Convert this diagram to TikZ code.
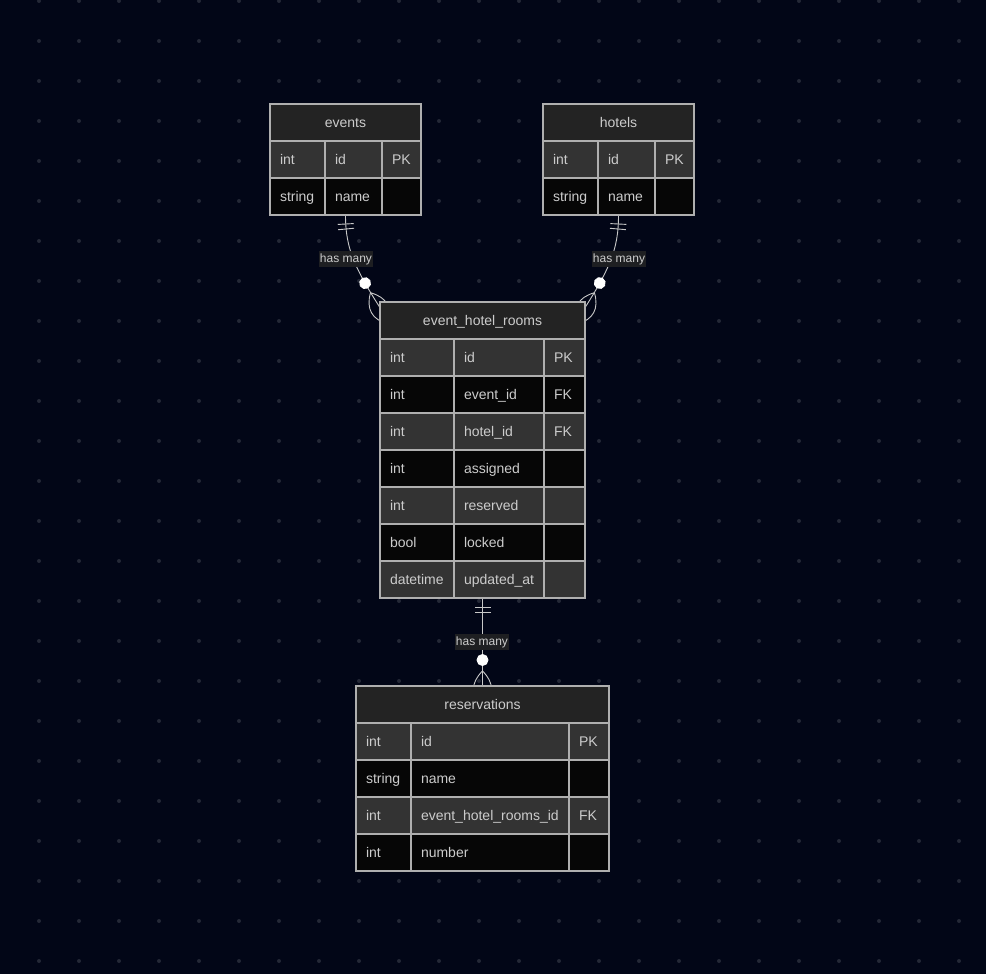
\documentclass[tikz,border=0pt]{standalone}
\usepackage{fontspec}
\setmainfont{Liberation Sans}
\usetikzlibrary{decorations.markings}
\definecolor{bg}{RGB}{2,6,23}
\definecolor{dotc}{RGB}{36,40,54}
\definecolor{hdr}{RGB}{35,35,35}
\definecolor{oddc}{RGB}{51,51,51}
\definecolor{evenc}{RGB}{6,6,6}
\definecolor{bord}{RGB}{175,175,175}
\definecolor{txt}{RGB}{204,204,204}
\definecolor{lnk}{RGB}{200,200,200}
\definecolor{lblbg}{RGB}{30,31,34}
\tikzset{
  ercell/.style={anchor=north west, draw=bord, line width=1.3pt, minimum height=37pt,
    inner xsep=10pt, inner ysep=0pt, outer sep=0pt, text=txt, align=left, font=\fontsize{14}{16}\selectfont},
  erhead/.style={anchor=north west, draw=bord, line width=1.3pt, fill=hdr, minimum height=37pt,
    inner sep=0pt, outer sep=0pt, text=txt, font=\fontsize{14}{16}\selectfont},
  erbox/.style={anchor=north west, draw=bord, line width=1.5pt, inner sep=0pt, outer sep=0pt},
  lbl/.style={fill=lblbg, text=txt, font=\fontsize{12}{14}\selectfont, inner xsep=1pt, inner ysep=2.5pt},
  rel/.style={draw=lnk, line width=0.9pt}
}
\newcommand\erstrut{\rule[-3pt]{0pt}{16pt}}
\newcommand\ercell[6]{\node[ercell,fill=#5,text width=#4pt] (#1) at (#2,#3) {\mbox{\erstrut #6}};}
\newcommand\errow[6]{%
  \ercell{#1t}{\cA}{#2}{\wA}{#3}{#4}%
  \ercell{#1n}{\cB}{#2}{\wB}{#3}{#5}%
  \ercell{#1k}{\cC}{#2}{\wC}{#3}{#6}}
\newcommand\zomany{%
  \filldraw[draw=white, fill=white] (0,0) circle (5.5);
  \draw[lnk, line width=0.9pt] (11,0) .. controls (23,12) and (35,12) .. (47,0)
     .. controls (35,-12) and (23,-12) .. (11,0);}
\newcommand\onebar{\draw[lnk, line width=0.9pt] (0,-8) -- (0,8);}
\begin{document}
\begin{tikzpicture}[x=1pt,y=-1pt]
\useasboundingbox (0,0) rectangle (986,974);
\fill[bg] (0,0) rectangle (986,974);
\foreach \i in {0,...,23} \foreach \j in {0,...,24}
  \fill[dotc] (39+40*\i, 1+40*\j) circle (2);

% table outlines (named, for connectors)
\path (270,104) node[erbox, minimum width=151pt, minimum height=111pt] (events) {};
\path (543,104) node[erbox, minimum width=151pt, minimum height=111pt] (hotels) {};
\path (380,302) node[erbox, minimum width=205pt, minimum height=296pt] (ehr) {};
\path (356,686) node[erbox, minimum width=253pt, minimum height=185pt] (res) {};

% connectors
\draw[rel, postaction={decorate}, decoration={markings,
   mark=at position 9pt with {\onebar},
   mark=at position 14pt with {\onebar},
   mark=at position -47pt with {\zomany}}]
  (events.south) .. controls +(0,35) and +(-35,-53) .. ([shift={(10,21)}]ehr.north west);
\draw[rel, postaction={decorate}, decoration={markings,
   mark=at position 9pt with {\onebar},
   mark=at position 14pt with {\onebar},
   mark=at position -47pt with {\zomany}}]
  (hotels.south) .. controls +(0,35) and +(35,-53) .. ([shift={(-10,21)}]ehr.north east);
\draw[rel, postaction={decorate}, decoration={markings,
   mark=at position 9pt with {\onebar},
   mark=at position 14pt with {\onebar},
   mark=at position -26pt with {\zomany}}]
  (ehr.south) -- (res.north);

\node[lbl] (lab1) at (346,259) {has many};
\node[lbl] (lab2) at (619,259) {has many};
\node[lbl] (lab3) at (482,642) {has many};

% events
\node[erhead, minimum width=151pt] (eventsH) at (270,104) {\erstrut events};
\def\cA{270}\def\cB{325}\def\cC{382}\def\wA{35}\def\wB{37}\def\wC{19}
\errow{ev1}{141}{oddc}{int}{id}{PK}
\errow{ev2}{178}{evenc}{string}{name}{}
\node[erbox, minimum width=151pt, minimum height=111pt] (eventsO) at (270,104) {};

% hotels
\node[erhead, minimum width=151pt] (hotelsH) at (543,104) {\erstrut hotels};
\def\cA{543}\def\cB{598}\def\cC{655}\def\wA{35}\def\wB{37}\def\wC{19}
\errow{ho1}{141}{oddc}{int}{id}{PK}
\errow{ho2}{178}{evenc}{string}{name}{}
\node[erbox, minimum width=151pt, minimum height=111pt] (hotelsO) at (543,104) {};

% event_hotel_rooms
\node[erhead, minimum width=205pt] (ehrH) at (380,302) {\erstrut event\_hotel\_rooms};
\def\cA{380}\def\cB{454}\def\cC{544}\def\wA{54}\def\wB{70}\def\wC{21}
\errow{eh1}{339}{oddc}{int}{id}{PK}
\errow{eh2}{376}{evenc}{int}{event\_id}{FK}
\errow{eh3}{413}{oddc}{int}{hotel\_id}{FK}
\errow{eh4}{450}{evenc}{int}{assigned}{}
\errow{eh5}{487}{oddc}{int}{reserved}{}
\errow{eh6}{524}{evenc}{bool}{locked}{}
\errow{eh7}{561}{oddc}{datetime}{updated\_at}{}
\node[erbox, minimum width=205pt, minimum height=296pt] (ehrO) at (380,302) {};

% reservations
\node[erhead, minimum width=253pt] (resH) at (356,686) {\erstrut reservations};
\def\cA{356}\def\cB{411}\def\cC{569}\def\wA{35}\def\wB{138}\def\wC{20}
\errow{re1}{723}{oddc}{int}{id}{PK}
\errow{re2}{760}{evenc}{string}{name}{}
\errow{re3}{797}{oddc}{int}{event\_hotel\_rooms\_id}{FK}
\errow{re4}{834}{evenc}{int}{number}{}
\node[erbox, minimum width=253pt, minimum height=185pt] (resO) at (356,686) {};
\end{tikzpicture}
\end{document}
